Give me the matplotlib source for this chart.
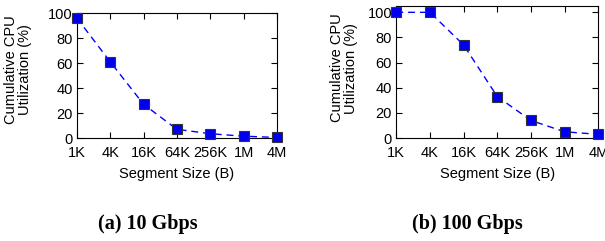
import numpy as np
import matplotlib
matplotlib.use("Agg")
import matplotlib.pyplot as plt

# segment sizes and cumulative CPU utilization (%)
sizes = ['1K', '4K', '16K', '64K', '256K', '1M', '4M']
cpu_10g = [96, 61, 27, 7, 3.5, 1.5, 0.5]
cpu_100g = [100, 100, 74, 33, 14, 5, 3]
captions = ['(a) 10 Gbps', '(b) 100 Gbps']

plt.rcParams['font.family'] = ['Liberation Sans', 'DejaVu Sans']

fig = plt.figure(figsize=(6.05, 2.41), dpi=100)
ax1 = fig.add_axes([0.127, 0.427, 0.331, 0.519])
ax2 = fig.add_axes([0.655, 0.427, 0.334, 0.548])

x = np.arange(len(sizes))

def draw(ax, vals, ytop, xl_y, yl_x, yl_y):
    ax.plot(x, vals, color='#0000ff', linestyle=(0, (5, 3.5)), linewidth=1.0,
            marker='s', markersize=6.5, markerfacecolor='#0000ee',
            markeredgecolor='#333333', markeredgewidth=0.8, clip_on=False, zorder=3)
    ax.set_xlim(0, len(sizes) - 1)
    ax.set_ylim(0, ytop)
    ax.set_xticks(x)
    ax.set_xticklabels(sizes)
    ax.set_yticks([0, 20, 40, 60, 80, 100])
    ax.tick_params(direction='in', length=4, width=0.8, top=True, right=True,
                   labelsize=10.5)
    ax.tick_params(axis='x', pad=6)
    ax.tick_params(axis='y', pad=3)
    for s in ax.spines.values():
        s.set_linewidth(0.8)
    ax.set_xlabel('Segment Size (B)', fontsize=10.5)
    ax.set_ylabel('Cumulative CPU\nUtilization (%)', fontsize=10.5, linespacing=0.95)
    ax.xaxis.set_label_coords(0.5, xl_y)
    ax.yaxis.set_label_coords(yl_x, yl_y)

draw(ax1, cpu_10g, 100, -0.23, -0.225, 0.55)
draw(ax2, cpu_100g, 105, -0.22, -0.19, 0.53)

fig.text(148 / 605, 1 - 224 / 241, captions[0], ha='center', va='center',
         fontsize=14.5, fontweight='bold', family='Liberation Serif')
fig.text(467 / 605, 1 - 224 / 241, captions[1], ha='center', va='center',
         fontsize=14.5, fontweight='bold', family='Liberation Serif')

fig.savefig('out.png', dpi=100)
